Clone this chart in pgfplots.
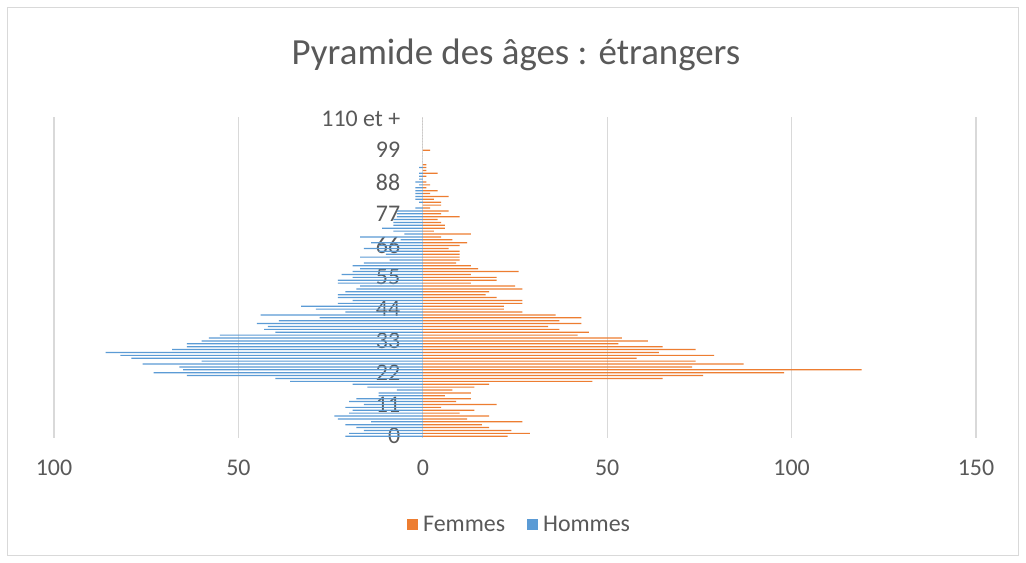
\documentclass[border=0pt]{standalone}
\usepackage{pgfplots}
\pgfplotsset{compat=1.18}
\usepackage{pgfplotstable}
\usepackage{fontspec}
\setmainfont{Carlito}
\definecolor{femmes}{HTML}{ED7D31}
\definecolor{hommes}{HTML}{5B9BD5}
\definecolor{grille}{HTML}{D9D9D9}
\definecolor{texte}{HTML}{595959}

% etiquettes au-dessus des barres
\pgfplotsset{layers/etiquettes/.define layer set={
  axis background,axis grid,axis ticks,axis lines,pre main,main,
  axis tick labels,axis descriptions,axis foreground}{}}

% age, femmes, hommes (negatif)
\pgfplotstableread{
age f h
0 23 -21
1 29 -20
2 24 -16
3 18 -18
4 16 -21
5 27 -14
6 12 -23
7 18 -24
8 10 -20
9 14 -19
10 5 -21
11 20 -16
12 9 -20
13 13 -18
14 6 -12
15 13 -12
16 8 -7
17 14 -15
18 18 -19
19 46 -36
20 65 -40
21 76 -64
22 98 -73
23 119 -65
24 73 -66
25 87 -76
26 74 -60
27 58 -79
28 79 -82
29 64 -86
30 74 -68
31 65 -64
32 53 -64
33 61 -60
34 54 -58
35 42 -55
36 45 -40
37 37 -43
38 34 -42
39 43 -45
40 37 -39
41 43 -28
42 36 -44
43 27 -21
44 22 -29
45 22 -33
46 27 -23
47 27 -19
48 20 -23
49 17 -23
50 18 -21
51 27 -18
52 25 -17
53 13 -23
54 20 -23
55 20 -19
56 13 -22
57 26 -19
58 15 -17
59 13 -19
60 9 -16
61 10 -9
62 10 -17
63 10 -10
64 10 -12
65 7 -16
66 10 -12
67 12 -14
68 8 -6
69 5 -17
70 13 -5
71 3 -8
72 6 -11
73 6 -8
74 5 -8
75 4 -8
76 10 -7
77 5 -7
78 7 -7
79 2 -2
80 5 0
81 5 -1
82 3 -2
83 7 -2
84 2 -2
85 4 -2
86 1 -2
87 2 -1
88 1 -2
89 0 -1
90 1 -1
91 4 -1
92 1 0
93 1 -1
94 1 0
95 0 0
96 0 0
97 0 0
98 0 0
99 2 0
100 0 0
101 0 0
102 0 0
103 0 0
104 0 0
105 0 0
106 0 0
107 0 0
108 0 0
109 0 0
110 0 0
}\pyramide

\begin{document}
\begin{tikzpicture}[x=1bp,y=1bp]
\fill[white] (0,0) rectangle (1026,-563);
\draw[grille, line width=1bp] (7.5,-7.5) rectangle (1018.5,-555.5);
\node[texte, font=\fontsize{37}{44}\selectfont] at (516,-55) {Pyramide des âges : étrangers};
\begin{axis}[
  set layers=etiquettes,
  at={(54bp,-437.7bp)}, anchor=south west,
  width=922bp, height=320.7bp, scale only axis,
  xbar, bar width=1.2bp, bar shift=0pt,
  xmin=-100, xmax=150, ymin=-0.5, ymax=110.5,
  xtick={-100,-50,0,50,100,150},
  xticklabels={100,50,0,50,100,150},
  ytick={0,11,22,33,44,55,66,77,88,99,110},
  yticklabels={0,11,22,33,44,55,66,77,88,99,110 et +},
  xmajorgrids, major grid style={grille, line width=1.3bp},
  axis line style={draw=none},
  tick style={draw=none},
  ticklabel style={texte, font=\fontsize{24}{28}\selectfont},
  xticklabel style={yshift=-19bp},
  yticklabel style={anchor=east, xshift=354bp},
  legend style={at={(0.505,-0.27)}, anchor=center, draw=none,
    font=\fontsize{24}{28}\selectfont, text=texte,
    /tikz/every even column/.append style={column sep=20bp}},
  legend columns=2,
  legend image code/.code={\fill[#1] (0bp,-5.5bp) rectangle (11bp,5.5bp); \path (14bp,0bp);},
]
\addplot[fill=femmes, draw=none] table[x=f, y=age] {\pyramide};
\addlegendentry{Femmes}
\addplot[fill=hommes, draw=none] table[x=h, y=age] {\pyramide};
\addlegendentry{Hommes}
\end{axis}
\end{tikzpicture}
\end{document}
